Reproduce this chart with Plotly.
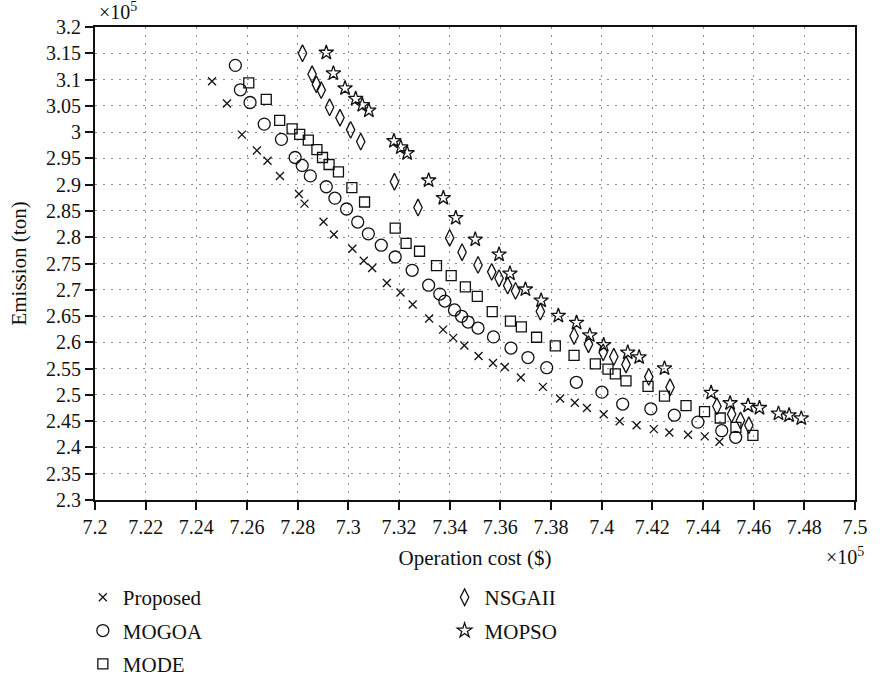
import plotly.graph_objects as go

# ---- data (values in units of 1e5) ----
proposed_x = [7.2462, 7.2521, 7.2580, 7.2639, 7.2681, 7.2730, 7.2805, 7.2827, 7.2902, 7.2943,
              7.3016, 7.3061, 7.3094, 7.3152, 7.3206, 7.3254, 7.3319, 7.3374, 7.3414, 7.3458,
              7.3514, 7.3571, 7.3618, 7.3681, 7.3768, 7.3836, 7.3894, 7.3942, 7.4008, 7.4071,
              7.4138, 7.4206, 7.4267, 7.4341, 7.4407, 7.4465]
proposed_y = [3.0968, 3.0545, 2.9952, 2.9650, 2.9456, 2.9166, 2.8822, 2.8640, 2.8296, 2.8053,
              2.7781, 2.7552, 2.7413, 2.7129, 2.6948, 2.6719, 2.6453, 2.6242, 2.6085, 2.5940,
              2.5740, 2.5608, 2.5530, 2.5330, 2.5152, 2.4930, 2.4852, 2.4750, 2.4633, 2.4500,
              2.4422, 2.4349, 2.4283, 2.4241, 2.4211, 2.4108]

mogoa_x = [7.2554, 7.2574, 7.2612, 7.2668, 7.2736, 7.2790, 7.2818, 7.2850, 7.2913, 7.2947,
           7.2993, 7.3037, 7.3079, 7.3130, 7.3185, 7.3252, 7.3317, 7.3361, 7.3381, 7.3419,
           7.3447, 7.3473, 7.3512, 7.3573, 7.3642, 7.3709, 7.3783, 7.3900, 7.4001, 7.4083,
           7.4194, 7.4287, 7.4380, 7.4474, 7.4529]
mogoa_y = [3.1270, 3.0805, 3.0563, 3.0152, 2.9862, 2.9517, 2.9366, 2.9167, 2.8960, 2.8743,
           2.8537, 2.8289, 2.8065, 2.7848, 2.7624, 2.7371, 2.7087, 2.6918, 2.6785, 2.6616,
           2.6495, 2.6386, 2.6272, 2.6103, 2.5891, 2.5710, 2.5517, 2.5240, 2.5052, 2.4825,
           2.4735, 2.4614, 2.4482, 2.4319, 2.4193]

mode_x = [7.2607, 7.2676, 7.2729, 7.2778, 7.2808, 7.2842, 7.2876, 7.2898, 7.2924, 7.2961,
          7.3014, 7.3064, 7.3185, 7.3228, 7.3281, 7.3348, 7.3406, 7.3462, 7.3509, 7.3568,
          7.3640, 7.3683, 7.3743, 7.3817, 7.3891, 7.3975, 7.4025, 7.4054, 7.4096, 7.4183,
          7.4248, 7.4333, 7.4406, 7.4468, 7.4530, 7.4597]
mode_y = [3.0938, 3.0623, 3.0224, 3.0061, 2.9958, 2.9849, 2.9668, 2.9517, 2.9384, 2.9245,
          2.8943, 2.8670, 2.8175, 2.7884, 2.7733, 2.7461, 2.7268, 2.7057, 2.6876, 2.6586,
          2.6405, 2.6296, 2.6097, 2.5934, 2.5752, 2.5589, 2.5490, 2.5398, 2.5265, 2.5163,
          2.4976, 2.4795, 2.4680, 2.4560, 2.4380, 2.4229]

nsgaii_x = [7.2819, 7.2857, 7.2874, 7.2893, 7.2926, 7.2967, 7.3009, 7.3049, 7.3182, 7.3275,
            7.3400, 7.3449, 7.3512, 7.3566, 7.3595, 7.3629, 7.3660, 7.3758, 7.3891, 7.3948,
            7.4006, 7.4048, 7.4096, 7.4186, 7.4270, 7.4455, 7.4513, 7.4548, 7.4581]
nsgaii_y = [3.1500, 3.1100, 3.0908, 3.0799, 3.0472, 3.0273, 3.0043, 2.9819, 2.9055, 2.8565,
            2.7987, 2.7715, 2.7473, 2.7341, 2.7220, 2.7081, 2.6978, 2.6586, 2.6121, 2.5964,
            2.5810, 2.5725, 2.5578, 2.5343, 2.5145, 2.4783, 2.4633, 2.4512, 2.4422]

mopso_x = [7.2913, 7.2941, 7.2987, 7.3029, 7.3055, 7.3081, 7.3180, 7.3207, 7.3232, 7.3317,
           7.3375, 7.3424, 7.3501, 7.3595, 7.3638, 7.3699, 7.3761, 7.3829, 7.3901, 7.3953,
           7.4008, 7.4103, 7.4148, 7.4248, 7.4432, 7.4507, 7.4578, 7.4623, 7.4698, 7.4740,
           7.4788]
mopso_y = [3.1512, 3.1119, 3.0835, 3.0635, 3.0515, 3.0412, 2.9832, 2.9710, 2.9600, 2.9082,
           2.8748, 2.8367, 2.7957, 2.7673, 2.7310, 2.7008, 2.6797, 2.6507, 2.6374, 2.6133,
           2.5950, 2.5807, 2.5717, 2.5506, 2.5042, 2.4843, 2.4795, 2.4753, 2.4645, 2.4614,
           2.4554]

x_ticks = [7.2, 7.22, 7.24, 7.26, 7.28, 7.3, 7.32, 7.34, 7.36, 7.38, 7.4, 7.42, 7.44, 7.46, 7.48, 7.5]
y_ticks = [2.3, 2.35, 2.4, 2.45, 2.5, 2.55, 2.6, 2.65, 2.7, 2.75, 2.8, 2.85, 2.9, 2.95, 3.0,
           3.05, 3.1, 3.15, 3.2]
x_tick_text = ["7.2", "7.22", "7.24", "7.26", "7.28", "7.3", "7.32", "7.34", "7.36", "7.38",
               "7.4", "7.42", "7.44", "7.46", "7.48", "7.5"]
y_tick_text = ["2.3", "2.35", "2.4", "2.45", "2.5", "2.55", "2.6", "2.65", "2.7", "2.75",
               "2.8", "2.85", "2.9", "2.95", "3", "3.05", "3.1", "3.15", "3.2"]

FONT = "Liberation Serif"
BLACK = "#111111"

series = [
    ("Proposed", proposed_x, proposed_y, "x-thin-open", 8, "legend"),
    ("MOGOA", mogoa_x, mogoa_y, "circle-open", 12, "legend"),
    ("MODE", mode_x, mode_y, "square-open", 10, "legend"),
    ("NSGAII", nsgaii_x, nsgaii_y, "diamond-tall-open", 12, "legend2"),
    ("MOPSO", mopso_x, mopso_y, "star-open", 11, "legend2"),
]

fig = go.Figure()
for name, xs, ys, sym, sz, lg in series:
    fig.add_trace(go.Scatter(
        x=xs, y=ys, mode="markers", name=name, legend=lg, legendgroup=name,
        marker=dict(symbol=sym, size=sz, color=BLACK, line=dict(color=BLACK, width=1.3)),
    ))

axis_common = dict(
    showline=True, linecolor=BLACK, linewidth=2, mirror=True,
    ticks="outside", ticklen=8, tickwidth=2, tickcolor=BLACK,
    showgrid=True, gridcolor="#8a8a8a", gridwidth=1, griddash="2px,6px",
    zeroline=False, tickfont=dict(family=FONT, size=20, color=BLACK),
)

legend_common = dict(
    yanchor="top", xanchor="left", orientation="v", y=-0.163,
    traceorder="grouped", tracegroupgap=3, bgcolor="rgba(0,0,0,0)",
    font=dict(family=FONT, size=21, color=BLACK),
)

fig.update_layout(
    width=880, height=696,
    margin=dict(l=95, r=15, t=27, b=173),
    plot_bgcolor="white", paper_bgcolor="white",
    font=dict(family=FONT, size=21, color=BLACK),
    xaxis=dict(range=[7.2, 7.5], tickvals=x_ticks, ticktext=x_tick_text,
               title=dict(text="Operation cost ($)", standoff=13,
                          font=dict(family=FONT, size=21, color=BLACK)),
               **axis_common),
    yaxis=dict(range=[2.3, 3.2], tickvals=y_ticks, ticktext=y_tick_text,
               title=dict(text="Emission (ton)", standoff=14,
                          font=dict(family=FONT, size=21, color=BLACK)),
               **axis_common),
    legend=dict(x=-0.016, **legend_common),
    legend2=dict(x=0.46, **legend_common),
    annotations=[
        dict(text="×10<sup>5</sup>", xref="paper", yref="paper", x=0.002, y=1.004,
             xanchor="left", yanchor="bottom", showarrow=False,
             font=dict(family=FONT, size=20, color=BLACK)),
        dict(text="×10<sup>5</sup>", xref="paper", yref="paper", x=1.014, y=-0.118,
             xanchor="right", yanchor="middle", showarrow=False,
             font=dict(family=FONT, size=20, color=BLACK)),
    ],
)

fig.write_html("out.html")
